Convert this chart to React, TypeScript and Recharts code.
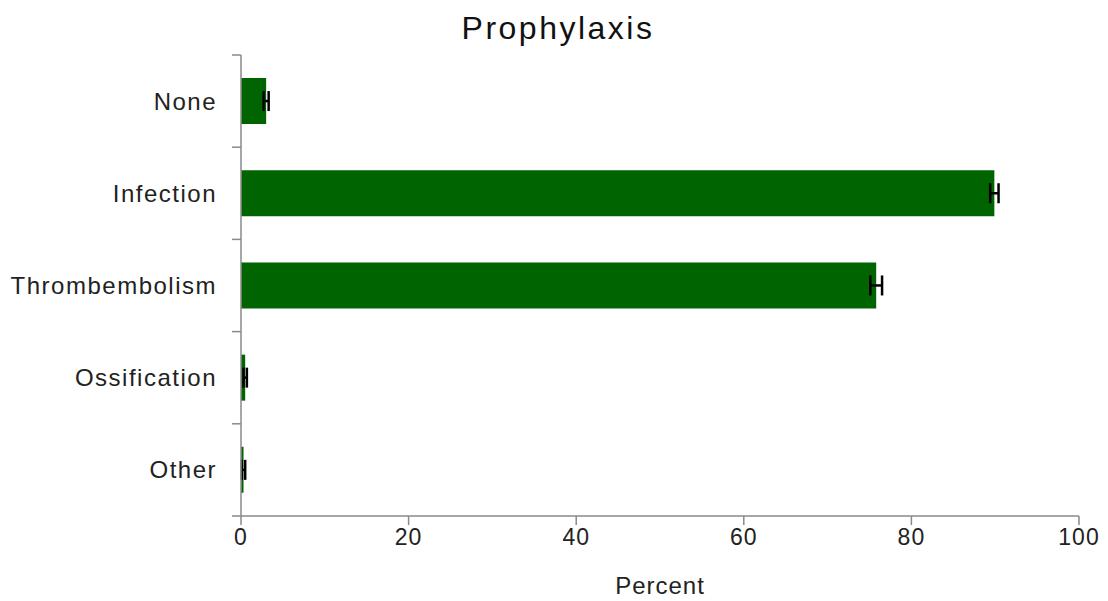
import React from "react";
import { BarChart, Bar, XAxis, YAxis, ErrorBar } from "recharts";

const categories = ["None", "Infection", "Thrombembolism", "Ossification", "Other"];
const percents = [3.0, 89.9, 75.8, 0.5, 0.3];
const errors = [0.3, 0.5, 0.7, 0.2, 0.2];
const xTicks = [0, 20, 40, 60, 80, 100];

const data = categories.map((c, i) => ({ name: c, value: percents[i], err: errors[i] }));

const FONT = "'Liberation Sans', Arial, sans-serif";
const AXIS = "#8a8a8a";

const CHART_W = 1108;
const CHART_H = 601;
const MARGIN = { top: 55, right: 29, bottom: 45, left: 241 };
const XAXIS_H = 40;
const PLOT_H = CHART_H - MARGIN.top - MARGIN.bottom - XAXIS_H;
const BAND = PLOT_H / categories.length;

function CategoryTick(props: any) {
  const { x, y, payload, index } = props;
  const last = index === categories.length - 1;
  return (
    <g>
      <line x1={x - 9} x2={x} y1={y - BAND / 2} y2={y - BAND / 2} stroke={AXIS} strokeWidth={1.5} />
      {last && <line x1={x - 9} x2={x} y1={y + BAND / 2} y2={y + BAND / 2} stroke={AXIS} strokeWidth={1.5} />}
      <text
        x={x - 24}
        y={y}
        textAnchor="end"
        dominantBaseline="central"
        fill="#222"
        fontSize={24}
        fontFamily={FONT}
        letterSpacing={1.5}
      >
        {payload.value}
      </text>
    </g>
  );
}

export default function App() {
  return (
    <div style={{ position: "absolute", left: 0, top: 0, width: CHART_W, height: CHART_H, background: "#fff", fontFamily: FONT }}>
      <div
        style={{
          position: "absolute",
          left: 4,
          width: CHART_W,
          top: 8,
          textAlign: "center",
          fontSize: 32,
          letterSpacing: 2.5,
          color: "#111",
          lineHeight: "40px",
        }}
      >
        Prophylaxis
      </div>
      <BarChart
        width={CHART_W}
        height={CHART_H}
        data={data}
        layout="vertical"
        margin={MARGIN}
        barCategoryGap="25%"
      >
        <YAxis
          type="category"
          dataKey="name"
          width={0.0001}
          axisLine={{ stroke: AXIS, strokeWidth: 1.5 }}
          tickLine={false}
          tickSize={0}
          tickMargin={0}
          interval={0}
          tick={<CategoryTick />}
        />
        <XAxis
          type="number"
          domain={[0, 100]}
          ticks={xTicks}
          height={XAXIS_H}
          tickSize={9}
          tickMargin={4}
          axisLine={{ stroke: AXIS, strokeWidth: 1.5 }}
          tickLine={{ stroke: AXIS, strokeWidth: 1.5 }}
          tick={{ fill: "#222", fontSize: 23, fontFamily: FONT, letterSpacing: 1 }}
          label={{ value: "Percent", position: "bottom", offset: 21, fill: "#222", fontSize: 24, fontFamily: FONT, letterSpacing: 1 }}
        />
        <Bar dataKey="value" fill="#006400" isAnimationActive={false}>
          <ErrorBar dataKey="err" direction="x" width={10} stroke="#000" strokeWidth={2.5} isAnimationActive={false} />
        </Bar>
      </BarChart>
    </div>
  );
}
